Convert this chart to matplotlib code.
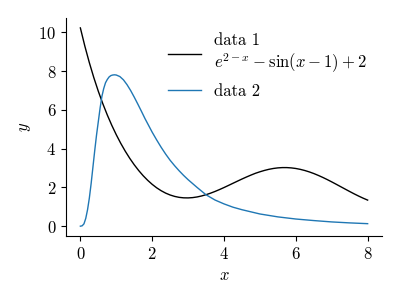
import matplotlib
matplotlib.use("Agg")
import matplotlib.pyplot as plt

plt.rcParams.update({
    "font.family": "serif",
    "font.serif": ["cmr10"],
    "mathtext.fontset": "cm",
    "axes.formatter.use_mathtext": True,
    "font.size": 12,
    "axes.unicode_minus": False,
})

x1 = [0, 0.125, 0.25, 0.375, 0.5, 0.625, 0.75, 0.875, 1.0, 1.125, 1.25, 1.375,
      1.5, 1.625, 1.75, 1.875, 2.0, 2.125, 2.25, 2.375, 2.5, 2.625, 2.75, 2.875,
      3.0, 3.125, 3.25, 3.375, 3.5, 3.625, 3.75, 3.875, 4.0, 4.125, 4.25, 4.375,
      4.5, 4.625, 4.75, 4.875, 5.0, 5.125, 5.25, 5.375, 5.5, 5.625, 5.75, 5.875,
      6.0, 6.125, 6.25, 6.375, 6.5, 6.625, 6.75, 6.875, 7.0, 7.125, 7.25, 7.375,
      7.5, 7.625, 7.75, 7.875, 8.0]
y1 = [10.23, 9.289, 8.437, 7.663, 6.961, 6.321, 5.738, 5.205, 4.718, 4.274,
      3.870, 3.502, 3.169, 2.870, 2.602, 2.366, 2.159, 1.980, 1.830, 1.706,
      1.609, 1.537, 1.488, 1.463, 1.459, 1.474, 1.508, 1.559, 1.625, 1.703,
      1.792, 1.890, 1.994, 2.103, 2.214, 2.324, 2.433, 2.537, 2.636, 2.729,
      2.807, 2.876, 2.934, 2.978, 3.008, 3.023, 3.023, 3.007, 2.977, 2.932,
      2.873, 2.801, 2.717, 2.621, 2.517, 2.405, 2.286, 2.163, 2.038, 1.913,
      1.789, 1.668, 1.553, 1.445, 1.346]

x2 = [0, 0.05, 0.1, 0.15, 0.2, 0.25, 0.3, 0.35, 0.4, 0.45, 0.5, 0.55, 0.6, 0.65,
      0.7, 0.75, 0.8, 0.85, 0.9, 0.95, 1.0, 1.1, 1.2, 1.3, 1.4, 1.5, 1.6, 1.7,
      1.8, 1.9, 2.0, 2.125, 2.25, 2.375, 2.5, 2.625, 2.75, 2.875, 3.0, 3.25,
      3.5, 3.75, 4.0, 4.25, 4.5, 5.0, 5.5, 6.0, 6.5, 7.0, 7.5, 8.0]
y2 = [0.0, 0.02, 0.12, 0.4, 0.85, 1.45, 2.2, 3.05, 3.9, 4.7, 5.4, 6.1, 6.7, 7.1,
      7.4, 7.57, 7.7, 7.77, 7.8, 7.81, 7.8, 7.72, 7.55, 7.3, 7.0, 6.66, 6.3,
      5.93, 5.55, 5.2, 4.85, 4.45, 4.07, 3.72, 3.4, 3.12, 2.86, 2.62, 2.4, 2.0,
      1.62, 1.35, 1.15, 0.98, 0.85, 0.63, 0.48, 0.37, 0.29, 0.22, 0.17, 0.13]

labels = ["data 1\n$e^{2-x} - \\sin(x-1) + 2$", "data 2"]

fig = plt.figure(figsize=(4, 3), dpi=100)
ax = fig.add_axes([0.165, 0.213, 0.79, 0.727])
ax.plot(x1, y1, color="black", lw=1.0, label=labels[0])
ax.plot(x2, y2, color="#1f77b4", lw=1.0, label=labels[1])
ax.set_xlabel("$x$")
ax.set_ylabel("$y$")
ax.set_xticks([0, 2, 4, 6, 8])
ax.set_yticks([0, 2, 4, 6, 8, 10])
ax.spines["top"].set_visible(False)
ax.spines["right"].set_visible(False)
ax.legend(loc="upper right", frameon=False)
fig.savefig("out.png", dpi=100)
